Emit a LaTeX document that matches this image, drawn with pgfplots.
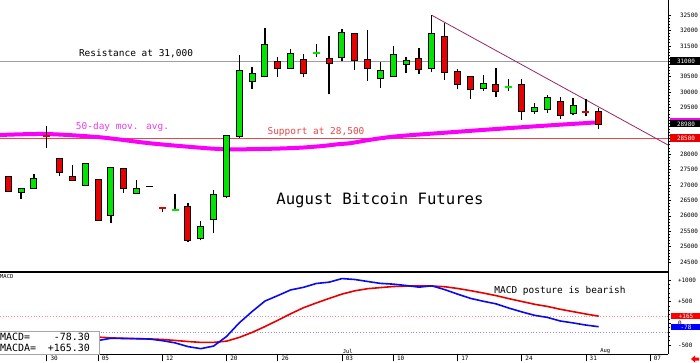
\documentclass[border=0pt]{standalone}
\usepackage{pgfplots}
\pgfplotsset{compat=1.18}
\usepackage{pgfplotstable}
\usepackage{fontspec}
\newfontfamily\mono{DejaVu Sans Mono}
\newcommand{\fs}[1]{\fontsize{#1}{#1}\selectfont}
\definecolor{cgreen}{RGB}{0,230,0}
\definecolor{cred}{RGB}{232,0,0}
\definecolor{cmag}{RGB}{250,0,250}
\definecolor{cmagtxt}{RGB}{235,60,235}
\definecolor{ctrend}{RGB}{150,40,100}
\definecolor{cblue}{RGB}{10,10,240}
\definecolor{csup}{RGB}{235,70,70}

% green (rising) candles: index O H L C
\pgfplotstableread{
i O H L C
-2 26770 26860 26530 26860
-1 26890 27350 26890 27180
3 27000 27710 27000 27680
5 26035 27580 25753 27557
7 26750 27160 26750 26858
12 25270 25820 25206 25630
13 25890 26835 25434 26660
14 26640 28590 26586 28590
15 28583 31204 28528 30676
16 30372 30825 30104 30589
17 30524 32068 30481 31517
19 30794 31398 30794 31226
23 31149 32035 31019 31906
26 30449 30987 30147 30686
27 30524 31495 30524 31204
28 30913 31129 30612 31010
30 30773 32489 30644 31884
34 30126 30546 30049 30265
38 29391 29660 29295 29477
39 29447 29900 29316 29822
41 29317 29800 29262 29554
}\greentab

% red (falling) candles
\pgfplotstableread{
i O H L C
-3 27246 27260 26780 26793
1 27838 27870 27288 27427
2 27246 27644 27159 27159
4 27159 27200 25878 25878
6 27505 27505 26750 26890
11 26277 26417 25162 25217
18 30977 31149 30481 30773
20 31042 31236 30482 30612
22 31074 31819 29942 30935
24 31893 31893 30718 31042
25 31032 32013 30372 30773
29 31064 31421 30589 30741
31 31777 32230 30395 30654
32 30654 30741 30093 30265
33 30482 30524 29790 30093
35 30233 30773 29833 30039
37 30222 30437 29100 29401
40 29693 29833 29133 29262
43 29370 29477 28800 28961
}\redtab

% doji candles
\pgfplotstableread{
i P H L
0 28583 28903 28185
9 26267 26267 26123
42 29360 29770 29230
}\dojired
\pgfplotstableread{
i P H L
10 26188 26696 26188
21 31280 31550 31150
36 30178 30417 30039
}\dojigreen
\pgfplotstableread{
i P H L
8 26955 26955 26955
}\dojiblack

% 50-day moving average
\pgfplotstableread{
i v
-3.64 28615
-0.05 28647
4.15 28541
8.05 28347
11.95 28204
13.5 28162
15.07 28152
17.5 28170
19.74 28204
21.5 28260
22.86 28324
23.64 28350
25.5 28480
27.54 28583
31.44 28702
35.34 28819
39.26 28929
42.97 29026
}\matab

% MACD (blue) and signal (red)
\pgfplotstableread{
i v
3.9 -401
5 -346
6 -350
7 -355
8 -362
9 -400
10 -451
11 -537
12 -585
13 -525
14 -306
15 11
16 272
17 514
18 640
19 771
20 831
21 920
22 950
23 1033
24 1012
25 966
26 922
27 905
28 873
29 835
30 866
31 779
32 675
33 577
34 510
35 450
36 352
37 265
38 185
39 137
40 54
41 10
42 -40
43 -78
}\macdtab
\pgfplotstableread{
i v
3.9 -316
5 -336
6 -346
7 -353
8 -360
9 -372
10 -395
11 -420
12 -440
13 -440
14 -412
15 -325
16 -210
17 -75
18 70
19 220
20 360
21 470
22 575
23 675
24 750
25 800
26 825
27 850
28 860
29 862
30 862
31 845
32 805
33 755
34 700
35 640
36 570
37 505
38 440
39 390
40 325
41 270
42 215
43 165
}\sigtab

\newcommand{\wicks}[1]{%
\addplot[draw=none, mark=none, forget plot,
  error bars/y dir=plus, error bars/y explicit, error bars/error mark=none,
  error bars/error bar style={draw=black, line width=1.3bp}]
  table[x=i, y=L, y error expr={\thisrow{H}-\thisrow{L}}] {#1};}
\newcommand{\bodies}[2]{%
\addplot[draw=none, mark=none, forget plot,
  error bars/y dir=plus, error bars/y explicit, error bars/error mark=none,
  error bars/error bar style={draw=black, line width=7bp}]
  table[x=i, y expr={min(\thisrow{O},\thisrow{C})-32}, y error expr={abs(\thisrow{C}-\thisrow{O})+64}] {#1};
\addplot[draw=none, mark=none, forget plot,
  error bars/y dir=plus, error bars/y explicit, error bars/error mark=none,
  error bars/error bar style={draw=#2, line width=5bp}]
  table[x=i, y expr={min(\thisrow{O},\thisrow{C})}, y error expr={abs(\thisrow{C}-\thisrow{O})}] {#1};}

\begin{document}
\begin{tikzpicture}[x=1bp,y=1bp]
\useasboundingbox (0bp,0bp) rectangle (700bp,363bp);
% ---------------- price panel ----------------
\begin{axis}[
  at={(0bp,91bp)}, anchor=south west, scale only axis,
  width=668bp, height=272bp,
  xmin=-3.64, xmax=48.4, ymin=24182, ymax=32984,
  axis x line*=bottom, axis y line*=right,
  x axis line style={line width=1.5bp, black},
  y axis line style={line width=0.8bp, black},
  xtick=\empty,
  ytick={24500,25000,...,32500},
  scaled y ticks=false,
  yticklabels={24500,25000,25500,26000,26500,27000,27500,28000,,,29500,30000,30500,,31500,32000,32500},
  minor y tick num=4,
  tick align=outside,
  major tick length=3bp, minor tick length=1.5bp,
  every tick/.style={black, line width=0.6bp},
  yticklabel style={font=\mono\fs{6}, anchor=west, xshift=5.5bp},
  clip=false,
]
\addplot[gray!75, line width=1.5bp, forget plot] coordinates {(-3.64,31000) (48.4,31000)};
\addplot[csup, line width=0.8bp, forget plot] coordinates {(-3.64,28500) (48.4,28500)};
\addplot[cmag, line width=4bp, smooth, forget plot] table[x=i, y=v] {\matab};
\addplot[ctrend, line width=0.8bp, forget plot] coordinates {(30,32489) (48.4,28292)};
\wicks{\greentab}
\wicks{\redtab}
\wicks{\dojired}
\wicks{\dojigreen}
\bodies{\greentab}{cgreen}
\bodies{\redtab}{cred}
\addplot[only marks, mark=-, mark size=3.5bp, mark options={draw=cred, line width=2bp}, forget plot] table[x=i, y=P] {\dojired};
\addplot[only marks, mark=-, mark size=3.5bp, mark options={draw=cgreen, line width=2bp}, forget plot] table[x=i, y=P] {\dojigreen};
\addplot[only marks, mark=-, mark size=3.5bp, mark options={draw=black, line width=1.3bp}, forget plot] table[x=i, y=P] {\dojiblack};
\end{axis}
% ---------------- MACD panel ----------------
\begin{axis}[
  at={(0bp,8.7bp)}, anchor=south west, scale only axis,
  width=668bp, height=82.3bp,
  xmin=-3.64, xmax=48.4, ymin=-715, ymax=1185,
  axis x line*=bottom, axis y line*=right,
  axis line style={line width=0.8bp, black},
  xtick={0,4,9,14,18,23,27,32,37,42,47},
  xticklabels={30,05,12,20,26,03,10,17,24,31,07},
  ytick={-500,0,500,1000},
  scaled y ticks=false,
  yticklabels={-500,0,+500,+1000},
  minor y tick num=4,
  tick align=outside,
  major tick length=3bp, minor tick length=1.5bp,
  xtick style={/pgfplots/major tick length=7bp},
  every tick/.style={black, line width=0.6bp},
  yticklabel style={font=\mono\fs{6}, anchor=west, xshift=3.5bp},
  xticklabel style={font=\mono\fs{6}, anchor=north west, xshift=0.3bp, yshift=4.6bp},
  clip=false,
]
\addplot[red!45, dotted, line width=0.8bp, forget plot] coordinates {(-3.64,165) (48.4,165)};
\addplot[blue!45, dotted, line width=0.8bp, forget plot] coordinates {(-3.64,-200) (48.4,-200)};
\addplot[cred, line width=1.6bp, forget plot] table[x=i, y=v] {\sigtab};
\addplot[cblue, line width=1.6bp, forget plot] table[x=i, y=v] {\macdtab};
\end{axis}
% ---------------- annotations ----------------
\node[font=\mono\fs{9.5}] at (136,309.7) {Resistance at 31,000};
\node[font=\mono\fs{9.5}, text=cmagtxt] at (122.5,236) {50-day mov. avg.};
\node[font=\mono\fs{9.5}, text=csup] at (316,231.3) {Support at 28,500};
\node[font=\mono\fs{15.7}] at (380,163) {August Bitcoin Futures};
\node[font=\mono\fs{9.5}] at (560,72.3) {MACD posture is bearish};
\node[font=\mono\fs{5.5}, anchor=west, inner sep=0] at (0,86.5) {MACD};
\node[font=\mono\fs{5.5}, inner sep=0] at (347.7,12) {Jul};
\node[font=\mono\fs{5.5}, inner sep=0] at (605.3,12) {Aug};
% info box
\draw[gray!70, fill=white, line width=0.8bp] (-1,8.7) rectangle (99,32);
\node[font=\mono\fs{10}, anchor=base west, inner sep=0] at (0,22.4) {MACD=};
\node[font=\mono\fs{10}, anchor=base east, inner sep=0] at (90,22.4) {-78.30};
\node[font=\mono\fs{10}, anchor=base west, inner sep=0] at (0,11.7) {MACDA=};
\node[font=\mono\fs{10}, anchor=base east, inner sep=0] at (90,11.7) {+165.30};
% right axis highlight boxes
\fill[black] (670,297.7) rectangle (700,305.7);
\node[font=\mono\fs{6}, text=white, inner sep=0] at (686,301.7) {31000};
\fill[cmag] (670,236) rectangle (700,244.7);
\fill[black] (670,235.5) rectangle (700,242.5);
\node[font=\mono\fs{6}, text=white, inner sep=0] at (686,239) {28980};
\fill[cred] (670,220.5) rectangle (700,228.5);
\node[font=\mono\fs{6}, text=white, inner sep=0] at (686,224.5) {28500};
\fill[red] (671,43.5) rectangle (700,50);
\node[font=\mono\fs{6}, text=white, inner sep=0] at (686,46.8) {+165};
\fill[blue] (671,32.7) rectangle (700,38.7);
\node[font=\mono\fs{6}, text=white, inner sep=0] at (686,35.8) {-78};
\fill[red] (691,4) -- (695,7.5) -- (695,5.5) -- (699,5.5) -- (699,2.5) -- (695,2.5) -- (695,0.5) -- cycle;
\end{tikzpicture}
\end{document}
